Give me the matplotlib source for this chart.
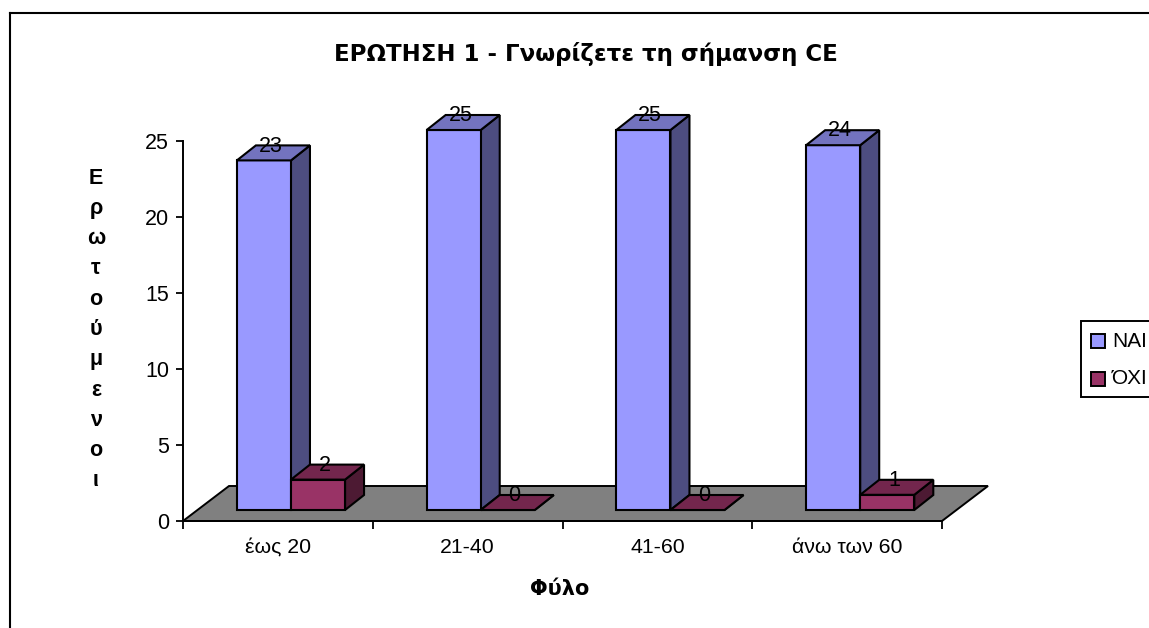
# 3D-style bar chart, depth faces drawn by hand
import matplotlib
matplotlib.use("Agg")
import matplotlib.pyplot as plt
from matplotlib.patches import Polygon, Rectangle

plt.rcParams["font.family"] = ["Liberation Sans", "DejaVu Sans"]

categories = ["έως 20", "21-40", "41-60", "άνω των 60"]
nai = [23, 25, 25, 24]
oxi = [2, 0, 0, 1]
y_ticks = [0, 5, 10, 15, 20, 25]

W, H = 1149, 628
fig = plt.figure(figsize=(W / 100, H / 100), dpi=100)

# axes box in pixels of the image
left, right, top, bottom = 183, 942, 141, 521
ax = fig.add_axes([left / W, 1 - bottom / H, (right - left) / W, (bottom - top) / H])
ax.set_xlim(0, len(categories))
ax.set_ylim(0, 25)

# depth of the 3D look, in data units
dx = 19 / 189.75
dy = 15 / 15.2
base = 11 / 15.2
width = 0.285
start = 0.284


def box(x, value, face, side, roof):
    ax.bar(x, value, width, bottom=base, align="edge", color=face,
           edgecolor="black", linewidth=1.5, zorder=3, clip_on=False)
    t = value + base
    ax.add_patch(Polygon([(x + width, base), (x + width + dx, base + dy),
                          (x + width + dx, t + dy), (x + width, t)],
                         fc=side, ec="black", lw=1.5, zorder=2, clip_on=False))
    ax.add_patch(Polygon([(x, t), (x + dx, t + dy), (x + width + dx, t + dy), (x + width, t)],
                         fc=roof, ec="black", lw=1.5, zorder=4, clip_on=False))


# floor
ax.add_patch(Polygon([(0, 0), (len(categories), 0), (len(categories) + 46 / 189.75, 35 / 15.2),
                      (46 / 189.75, 35 / 15.2)],
                     fc="#808080", ec="black", lw=1.4, zorder=1, clip_on=False))

for i in range(len(categories)):
    box(i + start, nai[i], "#9999FF", "#4D4D80", "#7373BF")
    box(i + start + width, oxi[i], "#993366", "#4D1A33", "#73264D")
    for x, v in ((i + start, nai[i]), (i + start + width, oxi[i])):
        ax.text(x + width / 2 + dx * 0.35, v + base + dy - 0.05, str(v), ha="center", va="center",
                fontsize=15.5, color="black", zorder=6, clip_on=False)

ax.spines["top"].set_visible(False)
ax.spines["right"].set_visible(False)
ax.spines["left"].set_linewidth(1.4)
ax.spines["bottom"].set_linewidth(1.4)
ax.patch.set_alpha(0)
ax.set_yticks(y_ticks)
ax.set_xticks(range(len(categories) + 1))
ax.set_xticklabels([])
ax.set_xticks([i + 0.5 for i in range(len(categories))], categories, minor=True)
ax.tick_params(axis="x", which="major", length=6, width=1.3, direction="out")
ax.tick_params(axis="x", which="minor", length=0, pad=12, labelsize=15.3)
ax.tick_params(axis="y", length=5, width=1.3, labelsize=15.5, pad=5)

fig.text(586 / W, 1 - 54 / H, "ΕΡΩΤΗΣΗ 1 - Γνωρίζετε τη σήμανση CE", ha="center", va="center",
         fontsize=16.5, fontweight="bold", family="DejaVu Sans")
fig.text(560 / W, 1 - 589 / H, "Φύλο", ha="center", va="center", fontsize=15, fontweight="bold",
         family="DejaVu Sans")
fig.text(96 / W, 1 - 329.5 / H, "\n".join("Ερωτούμενοι"), ha="center", va="center",
         fontsize=15.5, fontweight="bold", linespacing=1.58)

# outer frame
fig.add_artist(plt.Line2D([10 / W, 10 / W], [0, 1 - 13 / H], color="black", lw=1.5))
fig.add_artist(plt.Line2D([10 / W, 1], [1 - 13 / H, 1 - 13 / H], color="black", lw=1.5))

# legend box runs off the right edge like the original
fig.add_artist(Rectangle((1081 / W, 1 - 397 / H), 90 / W, 76 / H, transform=fig.transFigure,
                         fc="white", ec="black", lw=1.4))
for y, c, name in ((341, "#9999FF", "ΝΑΙ"), (379, "#993366", "ΌΧΙ")):
    fig.add_artist(Rectangle((1091 / W, 1 - (y + 7) / H), 14 / W, 14 / H, transform=fig.transFigure,
                             fc=c, ec="black", lw=1.4))
    fig.text(1112 / W, 1 - y / H, name, ha="left", va="center", fontsize=15)

fig.savefig("out.png", dpi=100)
